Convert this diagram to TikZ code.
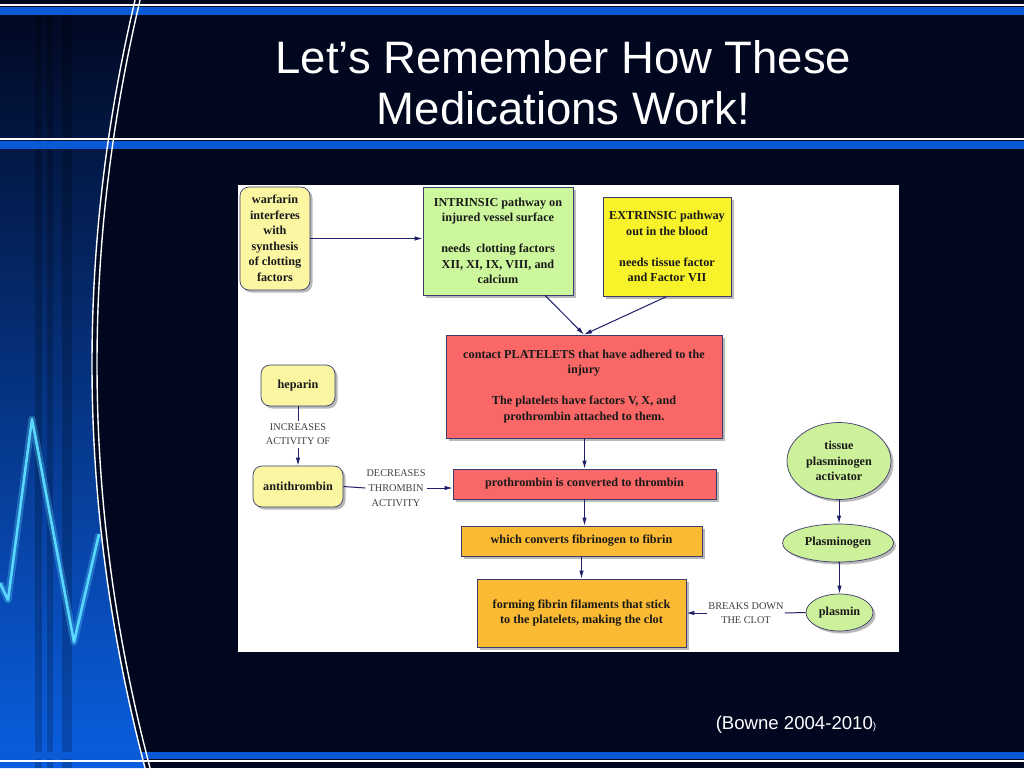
\documentclass[tikz,border=0pt]{standalone}
\usepackage{fontspec}
\setmainfont{Liberation Serif}
\newfontfamily\sansf{Liberation Sans}
\usetikzlibrary{shapes.geometric,arrows.meta,shadows,calc}
\definecolor{bg}{HTML}{01071F}
\definecolor{barblue}{HTML}{0A5AD6}
\definecolor{blueM}{HTML}{02266E}
\definecolor{blueB}{HTML}{0A5EE0}
\definecolor{beat}{HTML}{5AD8FF}
\definecolor{yel}{HTML}{FAF6A2}
\definecolor{grn}{HTML}{CCF79C}
\definecolor{yel2}{HTML}{F8F22A}
\definecolor{red1}{HTML}{F96767}
\definecolor{org}{HTML}{FBBA33}
\definecolor{egrn}{HTML}{CDF19A}
\definecolor{boxline}{HTML}{3C3C6E}
\definecolor{arrowc}{HTML}{1F1F6B}
\tikzset{
  basefont/.style={font=\fontsize{12.2}{15.5}\selectfont\bfseries, text=black!90, align=center},
  box/.style={basefont, draw=boxline, line width=0.7pt, inner sep=0pt,
    drop shadow={shadow xshift=2.5pt, shadow yshift=-2.5pt, fill=black!50, opacity=.55}},
  rbox/.style={box, rounded corners=9pt},
  oval/.style={box, ellipse},
  lab/.style={font=\fontsize{10.3}{14}\selectfont, text=black!75, align=center, inner xsep=1pt, inner ysep=3pt},
  conn/.style={draw=arrowc, line width=1pt},
  arr/.style={conn, -{Latex[length=8pt,width=4.5pt]}},
  title/.style={font=\sansf\fontsize{45.5}{51}\selectfont, text=white, anchor=base}
}
\begin{document}
\begin{tikzpicture}[x=1pt,y=-1pt]
\useasboundingbox (0,0) rectangle (1024,768);
\fill[bg] (0,0) rectangle (1024,768);
% left ornament
\shade[top color=bg, middle color=blueM, bottom color=blueB]
  (0,0) -- plot[domain=0:768,samples=80,variable=\t] ({92+3.25*((\t-364)/100)^2},{\t}) -- (0,768) -- cycle;
\begin{scope}
  \clip (0,0) -- plot[domain=0:768,samples=80,variable=\t] ({92+3.25*((\t-364)/100)^2},{\t}) -- (0,768) -- cycle;
  \fill[black,opacity=.2] (35,0) rectangle (42,768);
  \fill[black,opacity=.2] (47,0) rectangle (53,768);
  \fill[black,opacity=.2] (62,0) rectangle (72,768);
  \draw[beat,opacity=.3,line width=7pt,line join=round] (0,583) -- (8,600) -- (32,419) -- (74,642) -- (99,534);
  \draw[beat,line width=2.5pt,line join=round] (0,583) -- (8,600) -- (32,419) -- (74,642) -- (99,534);
\end{scope}
% bars
\fill[white] (0,4.5) rectangle (1024,6.5);
\fill[barblue] (0,7) rectangle (1024,15);
\fill[white] (0,138) rectangle (1024,140);
\fill[barblue] (0,141) rectangle (1024,149);
\fill[barblue] (0,752) rectangle (1024,759);
\fill[white] (0,760) rectangle (1024,762);
% arcs
\draw[white,line width=1.4pt] plot[domain=0:768,samples=80,variable=\t] ({92+3.25*((\t-364)/100)^2},{\t});
\draw[white,line width=1.4pt] plot[domain=0:768,samples=80,variable=\t] ({97+3.25*((\t-364)/100)^2},{\t});
% title
\node[title] (t1) at (563.5,73) {Let’s Remember How These};
\node[title] (t2) at (563.5,124) {Medications Work!};
\node[font=\sansf\fontsize{18.6}{18.6}\selectfont, text=white, anchor=base] (cite) at (796,729) {(Bowne 2004-2010{\fontsize{10}{10}\selectfont)}};
% panel
\fill[white] (238,185) rectangle (899,652);
% nodes
\node[rbox, fill=yel, minimum width=70pt, minimum height=103pt] (warf) at (275,238.5)
  {warfarin\\interferes\\with\\synthesis\\of clotting\\factors};
\node[box, fill=grn, minimum width=150pt, minimum height=108pt] (intr) at (498,241)
  {INTRINSIC pathway on\\injured vessel surface\\[15.5pt]needs\ \ clotting factors\\XII, XI, IX, VIII, and\\calcium};
\node[box, fill=yel2, minimum width=128pt, minimum height=99pt] (extr) at (667,246.5)
  {EXTRINSIC pathway\\out in the blood\\[15.5pt]needs tissue factor\\and Factor VII};
\node[box, fill=red1, minimum width=276pt, minimum height=103pt] (plat) at (584,386.5)
  {contact PLATELETS that have adhered to the\\injury\\[15.5pt]The platelets have factors V, X, and\\prothrombin attached to them.};
\node[box, fill=red1, minimum width=263pt, minimum height=30pt] (proth) at (584.5,484)
  {prothrombin is converted to thrombin};
\node[box, fill=org, minimum width=241pt, minimum height=30pt] (fibr) at (581.5,541)
  {which converts fibrinogen to fibrin};
\node[box, fill=org, minimum width=209pt, minimum height=68pt] (clot) at (581.5,613)
  {forming fibrin filaments that stick\\to the platelets, making the clot};
\node[rbox, fill=yel, minimum width=74pt, minimum height=41pt] (hep) at (298,385.5) {heparin};
\node[rbox, fill=yel, minimum width=90pt, minimum height=41pt] (anti) at (298,486.5) {antithrombin};
\node[oval, fill=egrn, minimum width=104pt, minimum height=77pt] (tpa) at (839,461)
  {tissue\\plasminogen\\activator};
\node[oval, fill=egrn, minimum width=111pt, minimum height=38pt] (plg) at (838,543) {Plasminogen};
\node[oval, fill=egrn, minimum width=67pt, minimum height=37pt] (plm) at (839.5,612.5) {plasmin};
% labels
\node[lab] (inc) at (298,434.5) {INCREASES\\ACTIVITY OF};
\node[lab, font=\fontsize{10.3}{15}\selectfont] (dec) at (396,488) {DECREASES\\THROMBIN\\ACTIVITY};
\node[lab] (brk) at (746,613) {BREAKS DOWN\\THE CLOT};
% connectors
\draw[arr] (warf.east) -- (warf.east -| intr.west);
\draw[arr] ([xshift=47pt]intr.south) -- (plat.north);
\draw[arr] (extr.south) -- (plat.north);
\draw[arr] (plat.south -| proth.north) -- (proth.north);
\draw[arr] (proth.south) -- (proth.south |- fibr.north);
\draw[arr] (fibr.south) -- (clot.north);
\draw[conn] (hep.south) -- (inc.north);
\draw[arr] (inc.south) -- (anti.north);
\draw[conn] (anti.east) -- (dec.west);
\draw[arr] (dec.east) -- (dec.east -| proth.west);
\draw[arr] (tpa.south) -- (tpa.south |- plg.north);
\draw[arr] (plg.south) -- (plg.south -| plm.north) -- (plm.north);
\draw[conn] (plm.west) -- (brk.east);
\draw[arr] (brk.west) -- (brk.west -| clot.east);
\end{tikzpicture}
\end{document}
